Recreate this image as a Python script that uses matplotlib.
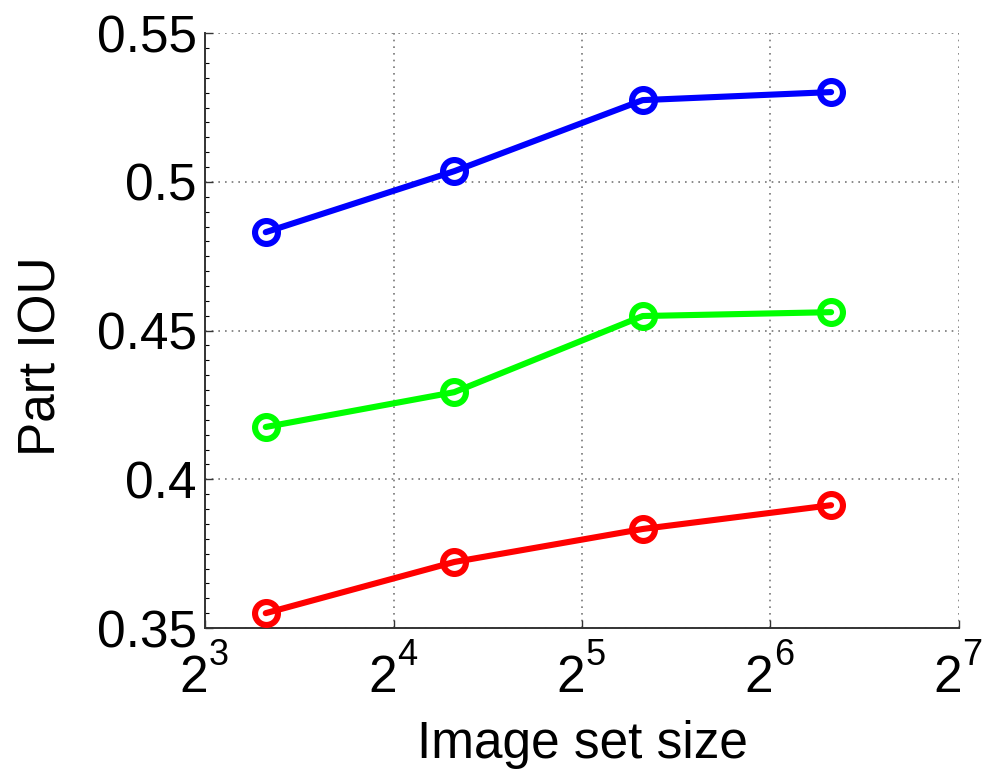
import numpy as np
import matplotlib
matplotlib.use('Agg')
import matplotlib.pyplot as plt
import matplotlib.transforms as mtransforms
from matplotlib.ticker import FixedLocator, MultipleLocator, NullFormatter

plt.rcParams['font.family'] = ['Liberation Sans', 'DejaVu Sans']

### data: part IOU vs. number of images in the set
set_sizes = [10, 20, 40, 80]
iou_blue = [0.4831, 0.5036, 0.5275, 0.5302]
iou_green = [0.4176, 0.4293, 0.4549, 0.4562]
iou_red = [0.3550, 0.3722, 0.3833, 0.3913]

xtick_exponents = [3, 4, 5, 6, 7]
yticks = [0.35, 0.4, 0.45, 0.5, 0.55]
ytick_labels = ['0.35', '0.4', '0.45', '0.5', '0.55']

fig = plt.figure(figsize=(9.86, 7.72), dpi=100)
ax = fig.add_axes([0.208, 0.1865, 0.7645, 0.7705])

for vals, col in [(iou_blue, '#0000ff'), (iou_green, '#00ff00'), (iou_red, '#ff0000')]:
    ax.plot(set_sizes, vals, color=col, linewidth=4.4, marker='o',
            markersize=16.5, markerfacecolor='none', markeredgewidth=4.4,
            solid_capstyle='round', zorder=3)

# log2 x axis, matlab-like look
ax.set_xscale('log', base=2)
ax.set_xlim(2**3, 2**7)
ax.set_ylim(0.35, 0.55)
ax.xaxis.set_major_locator(FixedLocator([2**e for e in xtick_exponents]))
ax.xaxis.set_major_formatter(NullFormatter())
ax.xaxis.set_minor_locator(FixedLocator([]))
ax.set_yticks(yticks)
ax.set_yticklabels(ytick_labels)
ax.yaxis.set_minor_locator(MultipleLocator(0.005))

ax.grid(True, which='major', linestyle=(0, (1, 3)), color='#777777', linewidth=1.2)
ax.spines['top'].set_visible(False)
ax.spines['right'].set_visible(False)
for s in ['left', 'bottom']:
    ax.spines[s].set_linewidth(1.4)
    ax.spines[s].set_color('#333333')

ax.tick_params(axis='y', which='major', direction='in', length=6,
               labelsize=37, width=1.0, color='#333333', pad=6)
ax.tick_params(axis='x', which='major', direction='in', length=6,
               width=1.0, color='#333333')
ax.tick_params(axis='y', which='minor', direction='in', length=3, width=0.8)

# x tick labels as base 2 with a large raised exponent
xtrans = mtransforms.blended_transform_factory(ax.transData, ax.transAxes)
for e in xtick_exponents:
    base_tr = xtrans + mtransforms.ScaledTranslation(2.2/72, -46.0/72, fig.dpi_scale_trans)
    exp_tr = xtrans + mtransforms.ScaledTranslation(2.6/72, -26.6/72, fig.dpi_scale_trans)
    ax.text(2**e, 0, '2', transform=base_tr, ha='right', va='baseline',
            fontsize=37, clip_on=False)
    ax.text(2**e, 0, str(e), transform=exp_tr, ha='left', va='baseline',
            fontsize=26, clip_on=False)

ax.set_xlabel('Image set size', fontsize=37)
ax.xaxis.set_label_coords(0.5, -0.155)
ax.set_ylabel('Part IOU', fontsize=37)
ax.yaxis.set_label_coords(-0.184, 0.457)

fig.savefig('out.png', dpi=100)
